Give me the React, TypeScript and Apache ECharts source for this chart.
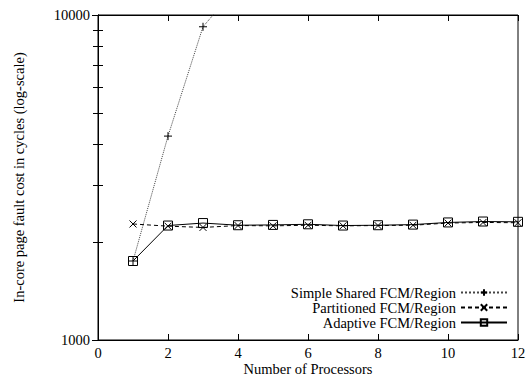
import React, { useEffect, useRef } from "react";
import * as echarts from "echarts";

const processors = [1, 2, 3, 4, 5, 6, 7, 8, 9, 10, 11, 12];
const simpleShared = [1750, 4240, 9200, 12300];
const partitioned = [2275, 2240, 2220, 2250, 2245, 2255, 2245, 2250, 2255, 2290, 2300, 2295];
const adaptive = [1750, 2250, 2290, 2255, 2260, 2270, 2250, 2255, 2265, 2300, 2315, 2310];
const xTicks = [0, 2, 4, 6, 8, 10, 12];

const FONT = "'Liberation Serif', 'Times New Roman', 'DejaVu Serif', serif";
const PLUS = "path://M0,5 L10,5 M5,0 L5,10";
const CROSS = "path://M0,0 L10,10 M10,0 L0,10";

export default function App() {
  const ref = useRef<HTMLDivElement>(null);
  useEffect(() => {
    if (!ref.current) return;
    const chart = echarts.init(ref.current, undefined, { renderer: "svg" });
    const pairs = (ys: number[]) => ys.map((y, i) => [processors[i], y]);
    const baseText = { fontFamily: FONT, fontSize: 14.5, color: "#000" };
    chart.setOption({
      animation: false,
      backgroundColor: "#fff",
      textStyle: baseText,
      grid: {
        left: 98,
        right: 8,
        top: 15,
        bottom: 35,
        show: true,
        borderColor: "#000",
        borderWidth: 1,
        containLabel: false,
        outerBoundsMode: "none",
      },
      xAxis: [
        {
          type: "value",
          min: xTicks[0],
          max: xTicks[xTicks.length - 1],
          interval: 2,
          position: "bottom",
          axisLine: { show: true, lineStyle: { color: "#000" } },
          axisTick: { show: true, inside: true, length: 6, lineStyle: { color: "#000" } },
          axisLabel: { ...baseText, margin: 6, lineHeight: 13 },
          splitLine: { show: false },
          name: "Number of Processors",
          nameLocation: "middle",
          nameGap: 22,
          nameMoveOverlap: false,
          nameTextStyle: { ...baseText, lineHeight: 13 },
        },
        {
          type: "value",
          min: 0,
          max: 12,
          interval: 2,
          position: "top",
          axisLine: { show: true, lineStyle: { color: "#000" } },
          axisTick: { show: true, inside: true, length: 6, lineStyle: { color: "#000" } },
          axisLabel: { show: false },
          splitLine: { show: false },
        },
      ],
      yAxis: [
        {
          type: "log",
          logBase: 10,
          min: 1000,
          max: 10000,
          position: "left",
          axisLine: { show: true, lineStyle: { color: "#000" } },
          axisTick: { show: true, inside: true, length: 6, lineStyle: { color: "#000" } },
          minorTick: { show: true, splitNumber: 9, length: 5, lineStyle: { color: "#000" } },
          axisLabel: { ...baseText, margin: 8, formatter: (v: number) => String(Math.round(v)) },
          splitLine: { show: false },
          minorSplitLine: { show: false },
          name: "In-core page fault cost in cycles (log-scale)",
          nameLocation: "middle",
          nameGap: 72,
          nameMoveOverlap: false,
          nameTextStyle: baseText,
        },
        {
          type: "log",
          logBase: 10,
          min: 1000,
          max: 10000,
          position: "right",
          axisLine: { show: true, lineStyle: { color: "#000" } },
          axisTick: { show: true, inside: true, length: 6, lineStyle: { color: "#000" } },
          minorTick: { show: true, splitNumber: 9, length: 5, lineStyle: { color: "#000" } },
          axisLabel: { show: false },
          splitLine: { show: false },
        },
      ],
      legend: {
        orient: "vertical",
        right: 13,
        bottom: 40,
        align: "right",
        itemWidth: 46,
        itemHeight: 8,
        itemGap: 0,
        textStyle: { ...baseText, lineHeight: 15 },
        data: ["Simple Shared FCM/Region", "Partitioned FCM/Region", "Adaptive FCM/Region"],
      },
      series: [
        {
          name: "Simple Shared FCM/Region",
          type: "line",
          data: pairs(simpleShared),
          symbol: PLUS,
          symbolSize: 8,
          itemStyle: { color: "transparent", borderColor: "#000", borderWidth: 1 },
          lineStyle: { color: "#444", width: 1, type: "dotted" },
          clip: true,
        },
        {
          name: "Partitioned FCM/Region",
          type: "line",
          data: pairs(partitioned),
          symbol: CROSS,
          symbolSize: 7,
          itemStyle: { color: "transparent", borderColor: "#000", borderWidth: 1 },
          lineStyle: { color: "#000", width: 1, type: [4, 3] },
          clip: true,
        },
        {
          name: "Adaptive FCM/Region",
          type: "line",
          data: pairs(adaptive),
          symbol: "rect",
          symbolSize: 9,
          itemStyle: { color: "transparent", borderColor: "#000", borderWidth: 1 },
          lineStyle: { color: "#000", width: 1, type: "solid" },
          clip: true,
        },
      ],
    });
    return () => chart.dispose();
  }, []);
  return <div ref={ref} style={{ width: 526, height: 375, position: "absolute", left: 0, top: 0 }} />;
}
